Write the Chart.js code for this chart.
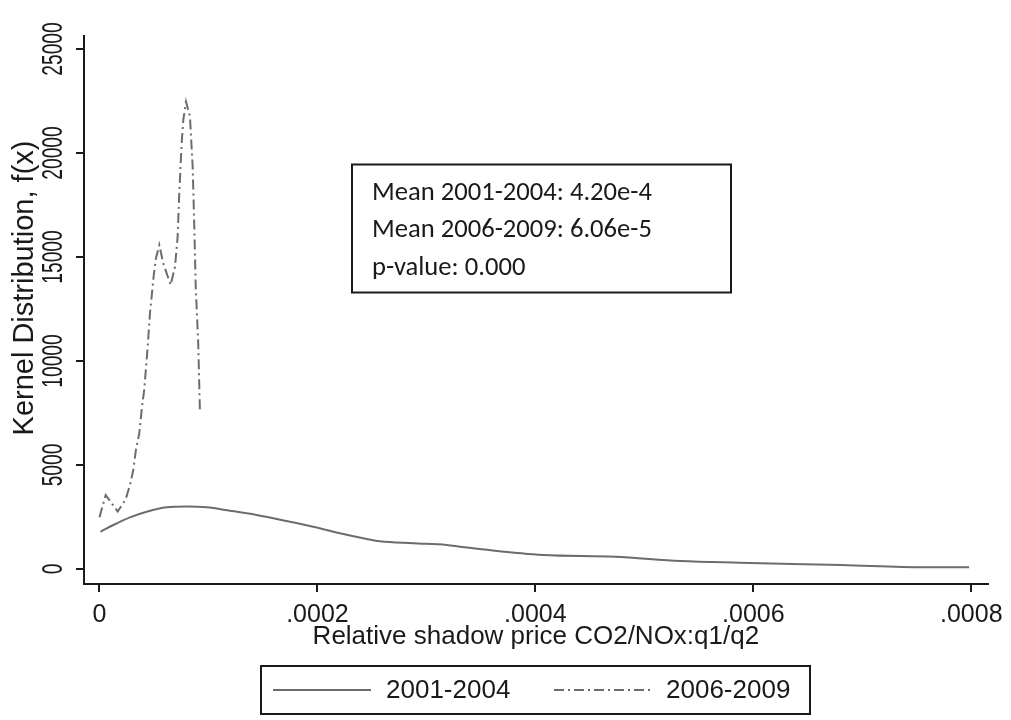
<!DOCTYPE html>
<html>
<head>
<meta charset="utf-8">
<script src="https://cdn.jsdelivr.net/npm/chart.js@4.4.1/dist/chart.umd.min.js"></script>
<style>
  html, body { margin: 0; padding: 0; background: #ffffff; }
  #wrap { width: 1011px; height: 720px; position: relative; }
</style>
</head>
<body>
<div id="wrap"><canvas id="c" width="1011" height="720"></canvas></div>
<script>
// Kernel density estimates of the relative shadow price, two periods
const seriesNames = ['2001-2004', '2006-2009'];

const priceA = [0.000001, 0.0000127, 0.000028, 0.0000433, 0.0000617, 0.00008, 0.0000983,
  0.0001197, 0.0001442, 0.0001717, 0.0001961, 0.0002206, 0.000242, 0.0002573, 0.0002879,
  0.0003185, 0.000331, 0.000349, 0.000407, 0.000473, 0.000533, 0.000587, 0.000681, 0.000757, 0.000798];
const densityA = [1790, 2115, 2485, 2755, 2966, 3000, 2966,
  2803, 2596, 2308, 2034, 1716, 1476, 1332, 1236,
  1154, 1072, 960, 673, 591, 385, 303, 192, 82, 82];

const priceB = [0, 0.0000057, 0.0000167, 0.000024, 0.000028, 0.000031, 0.0000335, 0.0000365,
  0.000039, 0.000041, 0.000044, 0.0000463, 0.00005, 0.0000518, 0.0000549, 0.0000585,
  0.0000653, 0.0000693, 0.0000717, 0.0000732, 0.0000754, 0.0000769, 0.0000794, 0.000083,
  0.0000855, 0.000087, 0.0000883, 0.0000906, 0.0000922];
const densityB = [2490, 3560, 2760, 3350, 4040, 4760, 5760, 6520,
  7800, 8600, 10530, 12290, 14220, 14940, 15580, 14700,
  13650, 14530, 15980, 18060, 20470, 21590, 22470, 21750,
  19340, 16460, 13570, 10850, 7490];

const xTickValues = [0, 0.0002, 0.0004, 0.0006, 0.0008];
const xTickLabels = ['0', '.0002', '.0004', '.0006', '.0008'];
const yTickValues = [0, 5000, 10000, 15000, 20000, 25000];
const yTickLabels = ['0', '5000', '10000', '15000', '20000', '25000'];

const xTitle = 'Relative shadow price CO2/NOx:q1/q2';
const yTitle = 'Kernel Distribution, f(x)';
const noteLines = ['Mean 2001-2004: 4.20e-4', 'Mean 2006-2009: 6.06e-5', 'p-value: 0.000'];

const INK = '#1a1a1a';
const LINE = '#6c6c6c';
const SANS = '"Liberation Sans", Arial, sans-serif';
const NOTE_FONT = 'Carlito, Lato, "Open Sans", sans-serif';

// Rotated axis labels, the statistics box and the framed legend
const decorations = {
  id: 'decorations',
  afterDraw(chart) {
    const ctx = chart.ctx;
    const yScale = chart.scales.y;
    ctx.save();
    ctx.fillStyle = INK;

    // y tick labels, rotated and narrow
    ctx.font = '30px ' + SANS;
    ctx.textAlign = 'center';
    ctx.textBaseline = 'middle';
    yTickValues.forEach((v, i) => {
      const py = yScale.getPixelForValue(v);
      ctx.save();
      ctx.translate(54, py);
      ctx.rotate(-Math.PI / 2);
      ctx.scale(0.64, 1);
      ctx.fillText(yTickLabels[i], 0, 0);
      ctx.restore();
    });

    // y axis title
    ctx.save();
    ctx.font = '29px ' + SANS;
    ctx.translate(25, 288);
    ctx.rotate(-Math.PI / 2);
    ctx.fillText(yTitle, 0, 0);
    ctx.restore();

    // statistics box
    ctx.strokeStyle = INK;
    ctx.lineWidth = 2;
    ctx.strokeRect(352, 164.5, 379, 128);
    ctx.font = '24px ' + NOTE_FONT;
    const w = ctx.measureText(noteLines[0]).width;
    const size = 24 * 280 / w;
    ctx.font = size.toFixed(2) + 'px ' + NOTE_FONT;
    ctx.textAlign = 'left';
    noteLines.forEach((t, i) => ctx.fillText(t, 372, 193 + i * 37.5));

    // legend
    const lx = 261, ly = 666, lw = 549, lh = 48;
    ctx.strokeRect(lx, ly, lw, lh);
    const midY = ly + lh / 2;
    const samples = [[273, 371, 386], [554, 652, 666]];
    ctx.font = '26px ' + SANS;
    chart.data.datasets.forEach((ds, i) => {
      const [a, b, tx] = samples[i];
      ctx.save();
      ctx.strokeStyle = ds.borderColor;
      ctx.lineWidth = ds.borderWidth;
      ctx.setLineDash(ds.borderDash || []);
      ctx.beginPath();
      ctx.moveTo(a, midY);
      ctx.lineTo(b, midY);
      ctx.stroke();
      ctx.restore();
      ctx.fillText(ds.label, tx, midY + 1);
    });
    ctx.restore();
  }
};

new Chart(document.getElementById('c'), {
  type: 'line',
  data: {
    datasets: [
      {
        label: seriesNames[0],
        data: priceA.map((x, i) => ({ x, y: densityA[i] })),
        borderColor: LINE,
        borderWidth: 2,
        pointRadius: 0,
        cubicInterpolationMode: 'monotone',
        fill: false
      },
      {
        label: seriesNames[1],
        data: priceB.map((x, i) => ({ x, y: densityB[i] })),
        borderColor: LINE,
        borderWidth: 2,
        borderDash: [10, 4, 2, 4],
        pointRadius: 0,
        tension: 0,
        fill: false
      }
    ]
  },
  options: {
    responsive: false,
    animation: false,
    devicePixelRatio: 1,
    layout: { padding: { left: 0, top: 36, right: 23, bottom: 56 } },
    plugins: { legend: { display: false }, tooltip: { enabled: false } },
    scales: {
      x: {
        type: 'linear',
        min: -0.00001422,
        max: 0.0008151,
        afterBuildTicks: (s) => { s.ticks = xTickValues.map(v => ({ value: v })); },
        afterFit: (s) => { s.height = 80; },
        ticks: {
          autoSkip: false,
          maxRotation: 0,
          padding: 8,
          color: INK,
          font: { family: SANS, size: 25 },
          callback: (v, i) => xTickLabels[i]
        },
        grid: { drawOnChartArea: false, drawTicks: true, tickLength: 8, color: INK, lineWidth: 2 },
        border: { display: true, color: INK, width: 2 },
        title: {
          display: true,
          text: xTitle,
          color: INK,
          font: { family: SANS, size: 26 },
          padding: { top: 0, bottom: 12 }
        }
      },
      y: {
        type: 'linear',
        min: -721,
        max: 25625,
        afterBuildTicks: (s) => { s.ticks = yTickValues.map(v => ({ value: v })); },
        afterFit: (s) => { s.width = 84; },
        ticks: { display: false },
        grid: { drawOnChartArea: false, drawTicks: true, tickLength: 8, color: INK, lineWidth: 2 },
        border: { display: true, color: INK, width: 2 }
      }
    }
  },
  plugins: [decorations]
});
</script>
</body>
</html>
